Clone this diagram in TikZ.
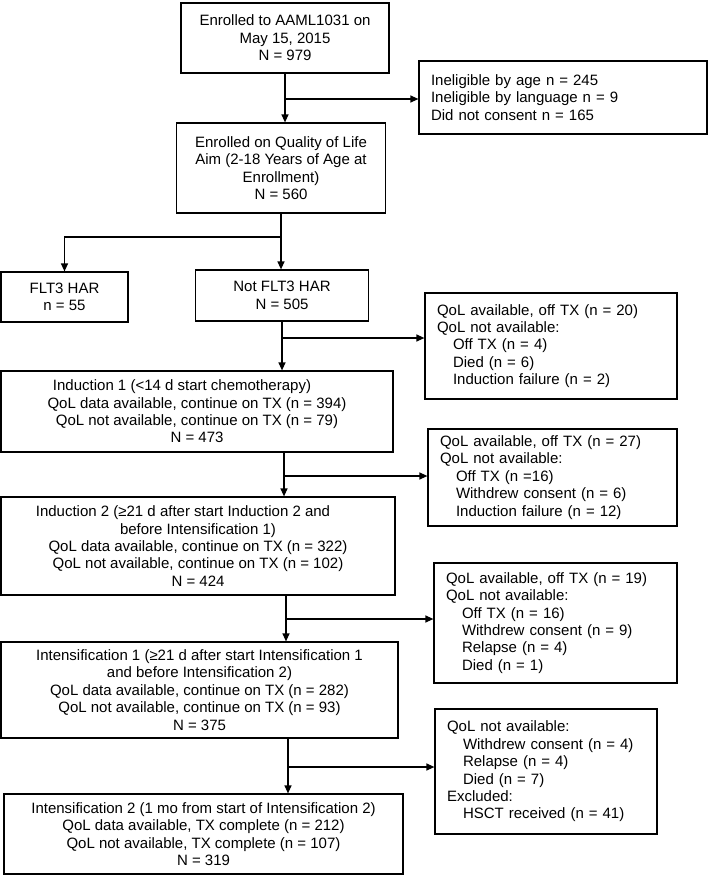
\documentclass[tikz,border=0pt]{standalone}
\usepackage{fontspec}
\setmainfont{Liberation Sans}
\usetikzlibrary{arrows.meta}
\tikzset{
  box/.style={draw, line width=1.2pt, align=center, inner sep=0pt},
  sidebox/.style={draw, line width=1.2pt, align=left, inner xsep=12pt, inner ysep=0pt},
  flow/.style={line width=1.2pt, -{Triangle[length=8pt,width=7pt]}},
}
\newcommand{\ind}{\hspace*{16pt}}

\begin{document}
\begin{tikzpicture}[x=1pt, y=-1pt, font=\fontsize{15pt}{17.4pt}\selectfont]
\useasboundingbox (0,0) rectangle (709,875);

\node[box, minimum width=208pt, minimum height=70pt] (enrolled) at (285,38)
  {Enrolled to AAML1031 on\\May 15, 2015\\N = 979};
\node[sidebox, text width=264pt, minimum height=73pt] (excl1) at (563,97.5)
  {Ineligible by age n = 245\\Ineligible by language n = 9\\Did not consent n = 165};
\node[box, minimum width=209pt, minimum height=90pt] (qol) at (281,168)
  {Enrolled on Quality of Life\\Aim (2-18 Years of Age at\\Enrollment)\\N = 560};
\node[box, minimum width=127pt, minimum height=50pt] (flt) at (64.5,297)
  {FLT3 HAR\\n = 55};
\node[box, minimum width=173pt, minimum height=51pt] (notflt) at (282,295.5)
  {Not FLT3 HAR\\N = 505};
\node[sidebox, text width=228pt, minimum height=106pt] (excl2) at (551,346)
  {QoL available, off TX (n = 20)\\QoL not available:\\\ind Off TX (n = 4)\\\ind Died (n = 6)\\\ind Induction failure (n = 2)};
\node[box, minimum width=392pt, minimum height=81pt] (induct1) at (197,411.5)
  {Induction 1 (<14 d start chemotherapy)\hspace*{30pt}\\QoL data available, continue on TX (n = 394)\\QoL not available, continue on TX (n = 79)\\N = 473};
\node[sidebox, text width=225pt, minimum height=97pt] (excl3) at (552.5,477.5)
  {QoL available, off TX (n = 27)\\QoL not available:\\\ind Off TX (n =16)\\\ind Withdrew consent (n = 6)\\\ind Induction failure (n = 12)};
\node[box, minimum width=394pt, minimum height=98pt] (induct2) at (198,546)
  {Induction 2 (≥21 d after start Induction 2 and\hspace*{30pt}\\before Intensification 1)\\QoL data available, continue on TX (n = 322)\\QoL not available, continue on TX (n = 102)\\N = 424};
\node[sidebox, text width=219pt, minimum height=120pt] (excl4) at (555.5,623)
  {QoL available, off TX (n = 19)\\QoL not available:\\\ind Off TX (n = 16)\\\ind Withdrew consent (n = 9)\\\ind Relapse (n = 4)\\\ind Died (n = 1)};
\node[box, minimum width=397pt, minimum height=96pt] (intens1) at (199.5,690)
  {Intensification 1 (≥21 d after start Intensification 1\\and before Intensification 2)\\QoL data available, continue on TX (n = 282)\\QoL not available, continue on TX (n = 93)\\N = 375};
\node[sidebox, text width=198pt, minimum height=125pt] (excl5) at (546,771.5)
  {QoL not available:\\\ind Withdrew consent (n = 4)\\\ind Relapse (n = 4)\\\ind Died (n = 7)\\Excluded:\\\ind HSCT received (n = 41)};
\node[box, minimum width=399pt, minimum height=80pt] (intens2) at (203.5,834)
  {Intensification 2 (1 mo from start of Intensification 2)\\QoL data available, TX complete (n = 212)\\QoL not available, TX complete (n = 107)\\N = 319};

\coordinate (b1) at (285,99);
\coordinate (split) at (281,237);
\coordinate (b2) at (282,338);
\coordinate (b3) at (284,476);
\coordinate (b4) at (286,619);
\coordinate (b5) at (288,767);

\draw[flow] (enrolled.south) -- (enrolled.south |- qol.north);
\draw[flow] (b1) -- (b1 -| excl1.west);
\draw[flow] (qol.south) -- (split) -| (flt.north);
\draw[flow] (split) -- (split |- notflt.north);
\draw[flow] (notflt.south) -- (notflt.south |- induct1.north);
\draw[flow] (b2) -- (b2 -| excl2.west);
\draw[flow] (b3 |- induct1.south) -- (b3 |- induct2.north);
\draw[flow] (b3) -- (b3 -| excl3.west);
\draw[flow] (b4 |- induct2.south) -- (b4 |- intens1.north);
\draw[flow] (b4) -- (b4 -| excl4.west);
\draw[flow] (b5 |- intens1.south) -- (b5 |- intens2.north);
\draw[flow] (b5) -- (b5 -| excl5.west);
\end{tikzpicture}
\end{document}
